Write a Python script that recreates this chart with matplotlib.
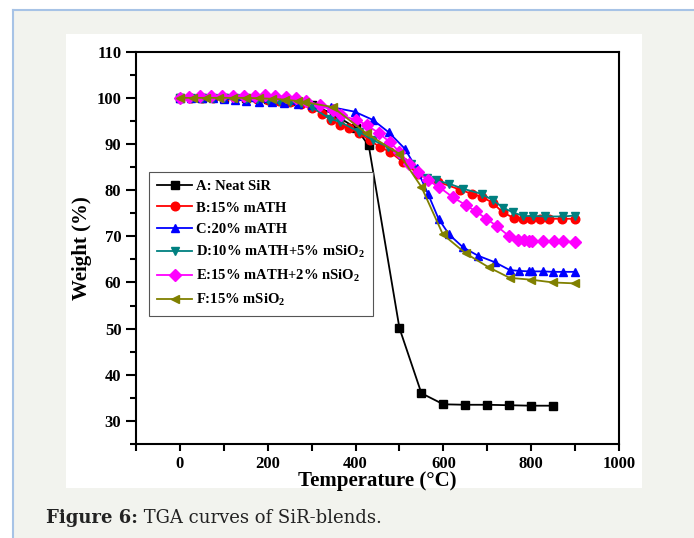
import matplotlib
matplotlib.use("Agg")
import matplotlib.pyplot as plt
from matplotlib.patches import Rectangle
from matplotlib.lines import Line2D
from matplotlib.ticker import MultipleLocator

# ---------------- data ----------------
labels = ["A: Neat SiR", "B:15% mATH", "C:20% mATH",
          "D:10% mATH+5% mSiO$_2$", "E:15% mATH+2% nSiO$_2$", "F:15% mSiO$_2$"]
colors = ["#000000", "#ff0000", "#0000ff", "#008080", "#ff00ff", "#808000"]
markers = ["s", "o", "^", "v", "D", "<"]

tA = [0, 50, 100, 150, 200, 250, 300, 350, 400, 430, 500, 550, 600, 650, 700, 750, 800, 850]
wA = [100, 100, 100, 99.9, 99.7, 99.3, 98.5, 96.5, 93.5, 89.7, 50.1, 36.0, 33.6, 33.5, 33.5, 33.4, 33.3, 33.3]

tB = [0, 25, 50, 75, 100, 125, 150, 175, 200, 225, 250, 275, 300, 324, 345, 364, 386, 409, 432,
      455, 478, 508, 542, 588, 638, 665, 689, 713, 735, 760, 782, 800, 820, 841, 870, 900]
wB = [100, 100, 100, 100, 99.9, 99.9, 99.8, 99.7, 99.6, 99.4, 99.1, 98.6, 97.8, 96.6, 95.2, 94.1, 93.5,
      92.3, 90.8, 89.4, 88.3, 86.1, 83.6, 81.8, 80.1, 79.2, 78.5, 77.2, 75.2, 74.0, 73.8, 73.8, 73.8,
      73.8, 73.8, 73.8]

tC = [0, 25, 50, 75, 100, 125, 150, 181, 210, 238, 270, 300, 345, 398, 440, 476, 512, 539, 565, 589,
      613, 645, 679, 717, 751, 773, 796, 803, 827, 850, 872, 900]
wC = [100, 100, 100, 99.9, 99.8, 99.6, 99.4, 99.1, 99.0, 98.8, 98.6, 98.4, 98.0, 97.0, 95.2, 92.5,
      89.0, 84.7, 79.2, 73.8, 70.4, 67.6, 65.8, 64.4, 62.7, 62.5, 62.4, 62.4, 62.4, 62.3, 62.3, 62.3]

tD = [0, 25, 50, 75, 100, 125, 150, 175, 200, 225, 250, 275, 300, 341, 364, 409, 440, 474, 500, 527,
      562, 584, 613, 645, 687, 713, 736, 758, 782, 805, 831, 872, 900]
wD = [100, 100, 100, 100, 99.9, 99.9, 99.8, 99.7, 99.6, 99.4, 99.2, 98.8, 98.0, 95.5, 94.8, 92.6,
      90.8, 89.4, 87.6, 85.7, 82.6, 82.1, 81.4, 80.3, 79.2, 77.8, 76.2, 75.2, 74.4, 74.4, 74.3, 74.3, 74.5]

tE = [0, 20, 45, 70, 95, 120, 145, 170, 193, 216, 242, 265, 288, 318, 348, 367, 402, 425, 453, 478,
      500, 522, 542, 565, 590, 621, 652, 674, 698, 722, 750, 771, 784, 794, 801, 827, 851, 872, 900]
wE = [100, 100.2, 100.3, 100.3, 100.3, 100.4, 100.4, 100.5, 100.6, 100.4, 100.2, 99.9, 99.4, 98.4,
      97.3, 96.2, 95.2, 94.1, 92.4, 90.4, 88.3, 85.7, 83.9, 82.1, 80.7, 78.5, 76.7, 75.4, 73.8, 72.2,
      70.0, 69.2, 69.1, 69.0, 69.0, 68.9, 68.9, 68.9, 68.8]

tF = [0, 30, 60, 90, 120, 150, 180, 210, 240, 270, 284, 348, 425, 499, 550, 599, 651, 703, 751, 800, 850, 900]
wF = [100, 100, 100, 100, 100, 100, 99.9, 99.8, 99.6, 99.3, 99.1, 98.0, 92.3, 87.9, 80.7, 70.4, 66.3,
      63.3, 61.0, 60.6, 60.0, 59.8]

x_ticks = [0, 200, 400, 600, 800, 1000]
y_ticks = [30, 40, 50, 60, 70, 80, 90, 100, 110]
xlabel = "Temperature (°C)"
ylabel = "Weight (%)"
caption_bold = "Figure 6:"
caption_rest = " TGA curves of SiR-blends."

series_t = [tA, tB, tC, tD, tE, tF]
series_w = [wA, wB, wC, wD, wE, wF]

# ---------------- style ----------------
plt.rcParams["font.family"] = ["Liberation Serif", "DejaVu Serif"]
plt.rcParams["font.weight"] = "bold"
plt.rcParams["mathtext.default"] = "regular"

W, H = 694, 538
fig = plt.figure(figsize=(W / 100, H / 100), dpi=100, facecolor="white")

# page background
fig.patches.append(Rectangle((13 / W, 0), 1 - 13 / W, 1 - 10 / H, transform=fig.transFigure,
                             facecolor="#f2f3ee", edgecolor="none", zorder=-10))
fig.lines.append(Line2D([13 / W, 1], [1 - 10 / H, 1 - 10 / H], transform=fig.transFigure,
                        color="#a7c3e6", lw=1.5))
fig.lines.append(Line2D([13 / W, 13 / W], [0, 1 - 10 / H], transform=fig.transFigure,
                        color="#a7c3e6", lw=1.5))
# white chart panel
fig.patches.append(Rectangle((66 / W, 1 - 488 / H), 576 / W, 454 / H, transform=fig.transFigure,
                             facecolor="white", edgecolor="none", zorder=-9))

ax = fig.add_axes([136 / W, 1 - 444 / H, 483 / W, 392.3 / H])
ax.set_facecolor("white")

for t, w, c, m, lab in zip(series_t, series_w, colors, markers, labels):
    ax.plot(t, w, color=c, marker=m, markersize=6.2, lw=1.3, markeredgecolor=c, label=lab)

ax.set_xlim(-100, 1000)
ax.set_ylim(25, 110)
ax.set_xticks(x_ticks)
ax.set_yticks(y_ticks)
ax.xaxis.set_minor_locator(MultipleLocator(100))
ax.yaxis.set_minor_locator(MultipleLocator(5))
ax.tick_params(axis="both", which="major", direction="out", length=7, width=1.5,
               labelsize=12, top=False, right=False)
ax.tick_params(axis="both", which="minor", direction="out", length=4, width=1.5,
               top=False, right=False)
ax.tick_params(axis="x", which="minor", length=5)
ax.tick_params(axis="x", which="major", length=5, pad=4)
for lab in ax.get_xticklabels() + ax.get_yticklabels():
    lab.set_fontweight("bold")
for s in ax.spines.values():
    s.set_linewidth(1.5)

ax.set_xlabel(xlabel, fontsize=15, fontweight="bold", labelpad=-1)
ax.set_ylabel(ylabel, fontsize=15, fontweight="bold", labelpad=3)

leg = ax.legend(loc="upper left", bbox_to_anchor=(0.027, 0.693), borderaxespad=0,
                fancybox=False, edgecolor="#555555", framealpha=1,
                prop={"size": 10.5, "weight": "bold"}, handlelength=2.4,
                handletextpad=0.3, labelspacing=0.55, borderpad=0.55)
leg.get_frame().set_linewidth(0.8)

t1 = fig.text(46 / W, 1 - 527 / H, caption_bold, fontsize=13, fontweight="bold",
              family="DejaVu Serif", color="#222222", va="bottom", ha="left")
ax.annotate(caption_rest, xy=(1, 0), xycoords=t1, va="bottom", ha="left",
            fontsize=13, fontweight="normal", family="DejaVu Serif", color="#222222",
            annotation_clip=False)

fig.savefig("out.png", dpi=100, facecolor=fig.get_facecolor())
